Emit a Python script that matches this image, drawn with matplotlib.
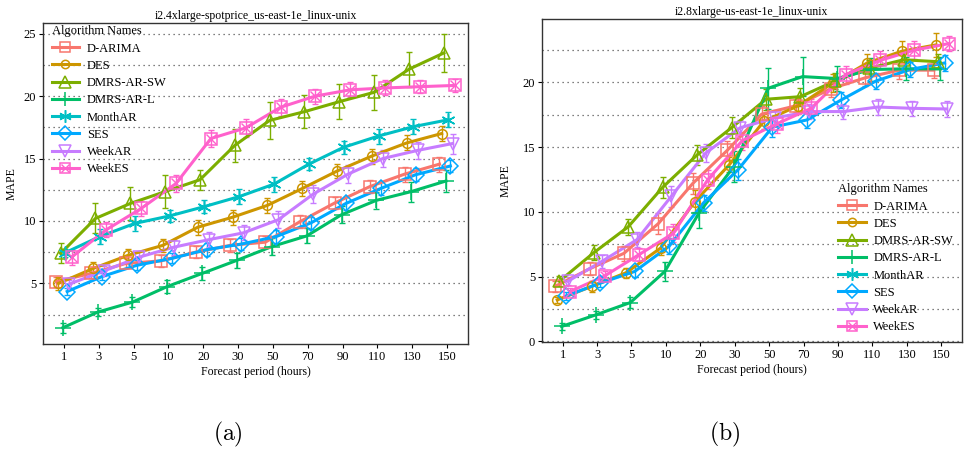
import matplotlib.pyplot as plt
from matplotlib.lines import Line2D
import numpy as np

plt.rcParams["font.family"] = ["Liberation Serif", "DejaVu Serif"]
plt.rcParams["mathtext.fontset"] = "cm"

periods = ["1", "3", "5", "10", "20", "30", "50", "70", "90", "110", "130", "150"]
algos = ["D-ARIMA", "DES", "DMRS-AR-SW", "DMRS-AR-L", "MonthAR", "SES", "WeekAR", "WeekES"]
colors = ["#F8766D", "#CD9600", "#7CAE00", "#00BE67", "#00BFC4", "#00A9FF", "#C77CFF", "#FF61CC"]

# panel (a): i2.4xlarge spot price
a_mape = {
    "D-ARIMA":    [5.15, 5.8, 6.6, 6.8, 7.5, 8.05, 8.3, 9.95, 11.45, 12.75, 13.75, 14.55],
    "DES":        [5.0, 6.2, 7.25, 8.05, 9.5, 10.3, 11.25, 12.6, 14.0, 15.2, 16.25, 17.0],
    "DMRS-AR-SW": [7.4, 10.2, 11.4, 12.35, 13.3, 16.05, 18.05, 18.75, 19.55, 20.3, 22.15, 23.45],
    "DMRS-AR-L":  [1.45, 2.7, 3.5, 4.75, 5.8, 6.85, 7.95, 8.8, 10.5, 11.65, 12.35, 13.2],
    "MonthAR":    [7.45, 8.75, 9.8, 10.4, 11.15, 11.95, 12.95, 14.55, 15.9, 16.8, 17.55, 18.1],
    "SES":        [4.35, 5.55, 6.45, 7.0, 7.7, 8.15, 8.75, 9.85, 11.4, 12.6, 13.7, 14.4],
    "WeekAR":     [4.95, 6.0, 7.1, 7.9, 8.5, 9.05, 10.1, 12.15, 13.75, 15.0, 15.65, 16.2],
    "WeekES":     [7.1, 9.3, 11.0, 13.0, 16.6, 17.45, 19.1, 20.0, 20.5, 20.65, 20.75, 20.85],
}
a_err = {
    "D-ARIMA":    [0.4, 0.4, 0.4, 0.5, 0.5, 0.5, 0.5, 0.5, 0.5, 0.5, 0.6, 0.6],
    "DES":        [0.5, 0.5, 0.5, 0.5, 0.6, 0.6, 0.6, 0.6, 0.6, 0.6, 0.6, 0.6],
    "DMRS-AR-SW": [0.8, 1.2, 1.3, 1.3, 0.8, 1.3, 1.5, 1.3, 1.4, 1.4, 1.4, 1.5],
    "DMRS-AR-L":  [0.4, 0.3, 0.4, 0.5, 0.5, 0.6, 0.7, 0.6, 0.7, 0.7, 0.8, 0.9],
    "MonthAR":    [0.3, 0.6, 0.6, 0.5, 0.5, 0.6, 0.6, 0.5, 0.5, 0.6, 0.6, 0.6],
    "SES":        [0.3, 0.3, 0.4, 0.4, 0.5, 0.5, 0.5, 0.5, 0.5, 0.5, 0.5, 0.5],
    "WeekAR":     [0.3, 0.4, 0.5, 0.6, 0.6, 0.6, 0.7, 0.7, 0.7, 0.7, 0.7, 0.8],
    "WeekES":     [0.6, 0.6, 0.6, 0.7, 0.7, 0.7, 0.7, 0.6, 0.6, 0.6, 0.5, 0.5],
}

# panel (b): i2.8xlarge (MonthAR has no visible series here)
b_mape = {
    "D-ARIMA":    [4.25, 5.6, 6.8, 9.1, 12.2, 14.75, 17.55, 18.2, 19.5, 20.35, 20.95, 20.95],
    "DES":        [3.2, 4.25, 5.3, 7.2, 10.8, 13.65, 17.0, 18.2, 19.95, 21.5, 22.4, 22.9],
    "DMRS-AR-SW": [4.65, 6.85, 8.85, 11.9, 14.4, 16.5, 18.7, 18.9, 20.1, 21.1, 21.75, 21.6],
    "DMRS-AR-L":  [1.15, 2.05, 3.0, 5.4, 9.95, 13.5, 19.55, 20.45, 20.3, 21.0, 21.05, 21.05],
    "MonthAR":    None,
    "SES":        [3.5, 4.5, 5.4, 7.35, 10.7, 13.25, 16.55, 17.1, 18.65, 20.1, 21.0, 21.5],
    "WeekAR":     [4.65, 6.2, 7.85, 11.2, 14.55, 16.5, 17.25, 17.75, 17.75, 18.1, 18.0, 17.95],
    "WeekES":     [3.85, 5.05, 6.7, 8.35, 12.5, 15.5, 16.8, 18.0, 20.6, 21.7, 22.5, 23.0],
}
b_err = {
    "D-ARIMA":    [0.4, 0.5, 0.6, 0.8, 0.8, 0.7, 0.6, 0.5, 0.6, 0.6, 0.7, 0.6],
    "DES":        [0.2, 0.4, 0.4, 0.5, 0.9, 0.6, 0.6, 0.6, 0.7, 0.7, 0.8, 0.9],
    "DMRS-AR-SW": [0.4, 0.6, 0.6, 0.8, 0.8, 0.8, 0.8, 0.7, 0.6, 0.6, 0.7, 0.6],
    "DMRS-AR-L":  [0.3, 0.3, 0.4, 0.7, 1.2, 1.2, 1.6, 1.5, 1.0, 0.9, 0.9, 0.9],
    "MonthAR":    None,
    "SES":        [0.3, 0.3, 0.4, 0.6, 0.6, 0.8, 0.8, 0.6, 0.6, 0.6, 0.6, 0.6],
    "WeekAR":     [0.3, 0.5, 0.6, 0.8, 0.7, 0.6, 0.6, 0.6, 0.6, 0.6, 0.6, 0.6],
    "WeekES":     [0.3, 0.4, 0.5, 0.7, 0.7, 0.7, 0.7, 0.7, 0.7, 0.7, 0.7, 0.6],
}

markers = {"D-ARIMA": "s", "DES": "o", "DMRS-AR-SW": "^", "DMRS-AR-L": "+",
           "MonthAR": (6, 2, 0), "SES": "D", "WeekAR": "v", "WeekES": "s"}
msizes = {"D-ARIMA": 8, "DES": 7, "DMRS-AR-SW": 9, "DMRS-AR-L": 11,
          "MonthAR": 10, "SES": 8, "WeekAR": 9, "WeekES": 8}


def legend_handle(name, col):
    h = Line2D([], [], color=col, lw=2.2, marker=markers[name], ms=msizes[name] - 1,
               mfc="none", mec=col, mew=1.1)
    if name == "WeekES":
        x = Line2D([], [], color=col, lw=0, marker="x", ms=6, mec=col, mew=1.0)
        return (h, x)
    return h


def draw_panel(ax, data, errs, title, ylim, yticks):
    x0 = np.arange(1, len(periods) + 1)
    dodge = 0.5 / len(algos)
    for i, (name, col) in enumerate(zip(algos, colors)):
        if data[name] is None:
            continue
        xs = x0 + (i - 3.5) * dodge
        ys = np.array(data[name])
        ax.errorbar(xs, ys, yerr=errs[name], fmt="none", ecolor=col, elinewidth=1.0,
                    capsize=2, capthick=1.0, zorder=2)
        ax.plot(xs, ys, color=col, lw=2.2, zorder=3)
        ax.plot(xs, ys, lw=0, marker=markers[name], ms=msizes[name], mfc="none",
                mec=col, mew=1.1, zorder=4)
        if name == "WeekES":
            ax.plot(xs, ys, lw=0, marker="x", ms=7, mec=col, mew=1.0, zorder=4)
    ax.set_xlim(0.4, len(periods) + 0.6)
    ax.set_ylim(*ylim)
    ax.set_xticks(x0)
    ax.set_xticklabels(periods)
    ax.set_yticks(yticks)
    for g in np.arange(0, 26, 2.5):
        if ylim[0] < g < ylim[1]:
            ax.axhline(g, color="#555555", lw=0.9, ls=(0, (1, 3)), zorder=1)
    ax.set_title(title, fontsize=8.5, pad=3)
    ax.set_xlabel("Forecast period (hours)", fontsize=8.5, labelpad=2)
    ax.tick_params(labelsize=9, length=3, width=0.8, pad=2)
    for s in ax.spines.values():
        s.set_linewidth(1.0)
        s.set_color("#333333")


fig = plt.figure(figsize=(9.64, 4.49), dpi=100)
ax1 = fig.add_axes([0.0446, 0.2339, 0.4409, 0.7149])
ax2 = fig.add_axes([0.5622, 0.2383, 0.4357, 0.7194])

draw_panel(ax1, a_mape, a_err, "i2.4xlarge-spotprice_us-east-1e_linux-unix",
           (0.15, 25.85), [5, 10, 15, 20, 25])
draw_panel(ax2, b_mape, b_err, "i2.8xlarge-us-east-1e_linux-unix",
           (-0.05, 24.9), [0, 5, 10, 15, 20])
ax1.set_ylabel("MAPE", fontsize=8.5, labelpad=4)
ax2.set_ylabel("MAPE", fontsize=8.5, labelpad=8)

handles = [legend_handle(n, c) for n, c in zip(algos, colors)]
leg_kw = dict(frameon=False, fontsize=9, title="Algorithm Names", title_fontsize=9,
              handlelength=2.2, handletextpad=0.6, labelspacing=0.42, borderpad=0.2,
              alignment="left")
ax1.legend(handles, algos, loc="upper left", bbox_to_anchor=(0.0, 1.02), **leg_kw)
ax2.legend(handles, algos, loc="lower right", bbox_to_anchor=(1.0, 0.0), **leg_kw)

fig.text(0.2365, 0.02, r"$\mathrm{(a)}$", fontsize=17, ha="center")
fig.text(0.752, 0.02, r"$\mathrm{(b)}$", fontsize=17, ha="center")

fig.savefig("out.png", dpi=100)
